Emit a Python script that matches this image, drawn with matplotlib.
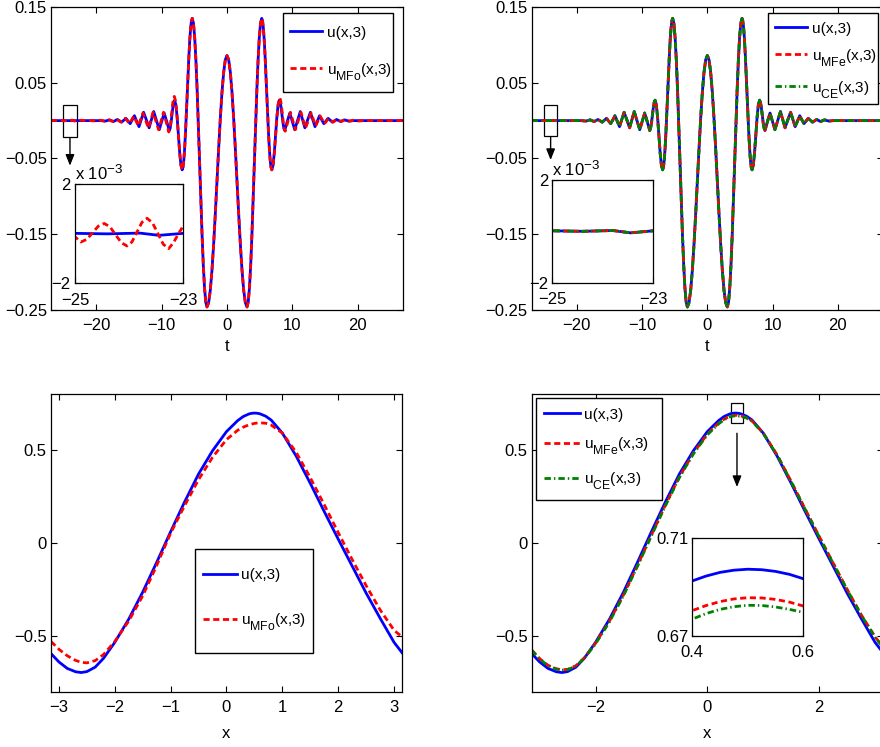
import numpy as np
import matplotlib
matplotlib.use("Agg")
import matplotlib.pyplot as plt
from matplotlib.patches import Rectangle

plt.rcParams["font.family"] = ["Liberation Sans", "DejaVu Sans"]
plt.rcParams["mathtext.fontset"] = "custom"
plt.rcParams["mathtext.rm"] = "Liberation Sans"
plt.rcParams["mathtext.it"] = "Liberation Sans:italic"

# larger, lower subscripts in the legend labels
try:
    import matplotlib._mathtext as _mt
    _mt.SHRINK_FACTOR = 0.8
    _mt.FontConstantsBase.sub1 = 0.75
except Exception:
    pass

FS = 12
FS_LEG = 11
BLUE = (0, 0, 1)
RED = (1, 0, 0)
GREEN = (0, 0.5, 0)

# ---- top row: wave packet at the final time, u(t) ----
T_TOP = [
    -26.9, -25.0, -24.4, -23.8, -23.45, -23.0, -19.3, -18.6, -17.95, -17.35,
    -16.75, -16.1, -15.45, -14.8, -14.475, -14.15, -13.8, -13.45, -13.1, -12.75,
    -12.325, -11.9, -11.55, -11.2, -10.775, -10.35, -9.975, -9.6, -9.215, -8.83,
    -8.692, -8.553, -8.415, -8.277, -8.138, -8.0, -7.808, -7.617, -7.425, -7.233,
    -7.042, -6.85, -6.722, -6.593, -6.465, -6.337, -6.208, -6.08, -5.952, -5.823,
    -5.695, -5.567, -5.438, -5.31, -5.123, -4.935, -4.748, -4.56, -4.373, -4.185,
    -3.998, -3.81, -3.623, -3.435, -3.248, -3.06, -2.805, -2.55, -2.295, -2.04,
    -1.785, -1.53, -1.275, -1.02, -0.765, -0.51, -0.255,
    0.0, 0.255, 0.51, 0.765, 1.02, 1.275, 1.53, 1.785, 2.04, 2.295,
    2.55, 2.805, 3.06, 3.248, 3.435, 3.623, 3.81, 3.998, 4.185, 4.373,
    4.56, 4.748, 4.935, 5.123, 5.31, 5.438, 5.567, 5.695, 5.823, 5.952,
    6.08, 6.208, 6.337, 6.465, 6.593, 6.722, 6.85, 7.042, 7.233, 7.425,
    7.617, 7.808, 8.0, 8.138, 8.277, 8.415, 8.553, 8.692, 8.83, 9.215,
    9.6, 9.975, 10.35, 10.775, 11.2, 11.55, 11.9, 12.325, 12.75, 13.1,
    13.45, 13.8, 14.15, 14.475, 14.8, 15.45, 16.1, 16.75, 17.35, 17.95,
    18.6, 19.3, 26.9,
]
U_TOP = [
    0.0, 0.00002, 0.0, 0.00003, -0.00006, 0.00002, 0.0, -0.0006, 0.001, -0.0012,
    0.0015, -0.002, 0.003, -0.004, 0.001, 0.0065, -0.0007, -0.008, 0.0015, 0.011,
    0.001, -0.0095, 0.001, 0.012, 0.0, -0.012, -0.001, 0.010, -0.001, -0.013,
    -0.0103, -0.003, 0.007, 0.017, 0.0243, 0.027, 0.0208, 0.004, -0.019, -0.042,
    -0.0588, -0.065, -0.0616, -0.0516, -0.0357, -0.015, 0.0091, 0.035, 0.0609, 0.085,
    0.1057, 0.1216, 0.1316, 0.135, 0.1285, 0.1095, 0.0792, 0.0398, -0.0062, -0.0555,
    -0.1048, -0.1508, -0.1902, -0.2205, -0.2395, -0.246, -0.2404, -0.2238, -0.1974, -0.163,
    -0.123, -0.080, -0.037, 0.003, 0.0374, 0.0638, 0.0804,
    0.086, 0.0804, 0.0638, 0.0374, 0.003, -0.037, -0.080, -0.123, -0.163, -0.1974,
    -0.2238, -0.2404, -0.246, -0.2395, -0.2205, -0.1902, -0.1508, -0.1048, -0.0555, -0.0062,
    0.0398, 0.0792, 0.1095, 0.1285, 0.135, 0.1316, 0.1216, 0.1057, 0.085, 0.0609,
    0.035, 0.0091, -0.015, -0.0357, -0.0516, -0.0616, -0.065, -0.0588, -0.042, -0.019,
    0.004, 0.0208, 0.027, 0.0243, 0.017, 0.007, -0.003, -0.0103, -0.013, -0.001,
    0.010, -0.001, -0.012, 0.0, 0.012, 0.001, -0.0095, 0.001, 0.011, 0.0015,
    -0.008, -0.0007, 0.0065, 0.001, -0.004, 0.003, -0.002, 0.0015, -0.0012, 0.001,
    -0.0006, 0.0, 0.0,
]

# odd-mode approximation: same core, different ripples and a small far tail
T_MFO = [
    -26.9, -25.3, -25.0, -24.89, -24.78, -24.675, -24.57, -24.46, -24.355, -24.25,
    -24.145, -24.04, -23.948, -23.855, -23.763, -23.67, -23.57, -23.47, -23.37, -23.27,
    -23.18, -23.09, -23.0, -22.85, -21.0, -20.0, -19.35, -18.7, -18.05, -17.45,
    -16.85, -16.2, -15.55, -14.9, -14.575, -14.25, -13.9, -13.55, -13.2, -12.85,
    -12.425, -12.0, -11.65, -11.3, -10.875, -10.45, -10.075, -9.7, -9.3, -8.9,
    -8.758, -8.617, -8.475, -8.333, -8.192, -8.05, -7.85, -7.65, -7.45, -7.25,
    -7.05, -6.85, -6.722, -6.593, -6.465, -6.337, -6.208, -6.08, -5.952, -5.823,
    -5.695, -5.567, -5.438, -5.31, -5.123, -4.935, -4.748, -4.56, -4.373, -4.185,
    -3.998, -3.81, -3.623, -3.435, -3.248, -3.06, -2.805, -2.55, -2.295, -2.04,
    -1.785, -1.53, -1.275, -1.02, -0.765, -0.51, -0.255,
    0.0, 0.255, 0.51, 0.765, 1.02, 1.275, 1.53, 1.785, 2.04, 2.295,
    2.55, 2.805, 3.06, 3.248, 3.435, 3.623, 3.81, 3.998, 4.185, 4.373,
    4.56, 4.748, 4.935, 5.123, 5.31, 5.438, 5.567, 5.695, 5.823, 5.952,
    6.08, 6.208, 6.337, 6.465, 6.593, 6.722, 6.85, 7.05, 7.25, 7.45,
    7.65, 7.85, 8.05, 8.192, 8.333, 8.475, 8.617, 8.758, 8.9, 9.3,
    9.7, 10.075, 10.45, 10.875, 11.3, 11.65, 12.0, 12.425, 12.85, 13.2,
    13.55, 13.9, 14.25, 14.575, 14.9, 15.55, 16.2, 16.85, 17.45, 18.05,
    18.7, 19.35, 20.0, 21.0, 26.9,
]
U_MFO = [
    0.0, 0.00035, -0.00012, -0.00033, -0.00022, 0.000045, 0.00031, 0.00042, 0.000287, -0.000035,
    -0.000357, -0.00049, -0.000326, 0.00007, 0.000466, 0.00063, 0.00045, 0.000015, -0.00042, -0.0006,
    -0.00035, 0.0, 0.00033, 0.0006, 0.0, -0.0005, 0.0006, -0.0008, 0.001, -0.0012,
    0.0015, -0.002, 0.003, -0.004, 0.001, 0.006, -0.0005, -0.007, 0.0015, 0.010,
    0.0, -0.010, 0.0005, 0.011, -0.0005, -0.012, -0.0005, 0.011, -0.0015, -0.015,
    -0.0119, -0.0033, 0.0085, 0.0203, 0.0289, 0.032, 0.0255, 0.0078, -0.0165, -0.0408,
    -0.0585, -0.065, -0.0616, -0.0516, -0.0357, -0.015, 0.0091, 0.035, 0.0609, 0.085,
    0.1057, 0.1216, 0.1316, 0.135, 0.1285, 0.1095, 0.0792, 0.0398, -0.0062, -0.0555,
    -0.1048, -0.1508, -0.1902, -0.2205, -0.2395, -0.246, -0.2404, -0.2238, -0.1974, -0.163,
    -0.123, -0.080, -0.037, 0.003, 0.0374, 0.0638, 0.0804,
    0.086, 0.0804, 0.0638, 0.0374, 0.003, -0.037, -0.080, -0.123, -0.163, -0.1974,
    -0.2238, -0.2404, -0.246, -0.2395, -0.2205, -0.1902, -0.1508, -0.1048, -0.0555, -0.0062,
    0.0398, 0.0792, 0.1095, 0.1285, 0.135, 0.1316, 0.1216, 0.1057, 0.085, 0.0609,
    0.035, 0.0091, -0.015, -0.0357, -0.0516, -0.0616, -0.065, -0.0586, -0.0413, -0.0175,
    0.0063, 0.0236, 0.030, 0.0271, 0.019, 0.008, -0.003, -0.0111, -0.014, -0.0015,
    0.011, -0.0005, -0.012, -0.0005, 0.011, 0.0005, -0.010, 0.0, 0.010, 0.0015,
    -0.007, -0.0005, 0.006, 0.001, -0.004, 0.003, -0.002, 0.0015, -0.0012, 0.001,
    -0.0008, 0.0006, -0.0005, 0.0, 0.0,
]

# ---- bottom row: periodic profile on [-pi, pi] ----
X_BOT = [
    -3.1416, -3.0, -2.85, -2.7, -2.6, -2.5, -2.35, -2.2, -2.0, -1.75,
    -1.5, -1.25, -1.0, -0.75, -0.5, -0.25, 0.0, 0.2, 0.3, 0.4,
    0.425, 0.45, 0.475, 0.5, 0.525, 0.55, 0.575, 0.6, 0.7, 0.8,
    1.0, 1.25, 1.5, 1.75, 2.0, 2.25, 2.5, 2.75, 3.0, 3.1416,
]
U_BOT = [
    -0.595, -0.64, -0.675, -0.693, -0.697, -0.692, -0.668, -0.62, -0.535, -0.41,
    -0.265, -0.105, 0.06, 0.22, 0.37, 0.495, 0.598, 0.657, 0.679, 0.6925,
    0.6945, 0.6960, 0.6969, 0.6973, 0.6971, 0.6964, 0.6952, 0.6934, 0.681, 0.66,
    0.59, 0.465, 0.32, 0.168, 0.02, -0.125, -0.27, -0.405, -0.535, -0.59,
]
U_MFO_BOT = [
    -0.53, -0.572, -0.607, -0.632, -0.642, -0.645, -0.633, -0.60, -0.53, -0.42,
    -0.285, -0.122, 0.052, 0.20, 0.34, 0.46, 0.555, 0.605, 0.622, 0.634,
    0.636, 0.638, 0.640, 0.642, 0.643, 0.644, 0.645, 0.645, 0.643, 0.633,
    0.59, 0.485, 0.35, 0.205, 0.055, -0.09, -0.23, -0.36, -0.47, -0.505,
]
U_MFE_BOT = [
    -0.575, -0.622, -0.658, -0.677, -0.682, -0.68, -0.66, -0.618, -0.54, -0.42,
    -0.28, -0.122, 0.042, 0.203, 0.355, 0.482, 0.585, 0.643, 0.665, 0.6803,
    0.6824, 0.6840, 0.6851, 0.6856, 0.6855, 0.6849, 0.6838, 0.6822, 0.673, 0.655,
    0.59, 0.472, 0.33, 0.182, 0.035, -0.108, -0.25, -0.385, -0.505, -0.56,
]
U_CE_BOT = [
    -0.578, -0.625, -0.66, -0.679, -0.684, -0.682, -0.662, -0.62, -0.543, -0.424,
    -0.284, -0.126, 0.038, 0.199, 0.351, 0.478, 0.581, 0.639, 0.662, 0.6768,
    0.6791, 0.6808, 0.6819, 0.6825, 0.6824, 0.6818, 0.6808, 0.6796, 0.671, 0.653,
    0.588, 0.47, 0.328, 0.18, 0.033, -0.11, -0.252, -0.387, -0.507, -0.562,
]

LBL_U = "u(x,3)"
LBL_MFO = r"u$_{\mathrm{MFo}}$(x,3)"
LBL_MFE = r"u$_{\mathrm{MFe}}$(x,3)"
LBL_CE = r"u$_{\mathrm{CE}}$(x,3)"

RED_DASH = (2.2, 1.3)
GREEN_DASHDOT = (2.3, 1.1, 0.5, 1.1)
LW = 2.0


def style(ax, size=FS, xpad=6):
    for s in ax.spines.values():
        s.set_linewidth(0.9)
        s.set_color("black")
    ax.tick_params(direction="in", length=4, width=0.8, top=True, right=True,
                   labelsize=size, colors="black")
    ax.tick_params(axis="y", pad=3)
    ax.tick_params(axis="x", pad=xpad)


def minus(v, fmt):
    return (fmt % v).replace("-", "\u2212")


def add_legend(ax, frame, anchor, spacing, hlen):
    # boxed legend: frame drawn as its own rectangle, entries placed inside it
    x0, y0, x1, y1 = frame
    ax.add_patch(Rectangle((x0, y0), x1 - x0, y1 - y0, transform=ax.transAxes,
                           fc="white", ec="black", lw=1.0, zorder=4.5,
                           clip_on=False))
    leg = ax.legend(loc="upper left", bbox_to_anchor=anchor, fontsize=FS_LEG,
                    frameon=False, handlelength=hlen, handletextpad=0.3,
                    labelspacing=spacing, borderpad=0, borderaxespad=0)
    leg.set_zorder(5)
    return leg


def arrow(ax, x, y0, y1):
    ax.annotate("", xy=(x, y1), xytext=(x, y0),
                arrowprops=dict(arrowstyle="-|>,head_length=0.55,head_width=0.22",
                                color="black", lw=1.0, shrinkA=0, shrinkB=0,
                                mutation_scale=12))


fig = plt.figure(figsize=(8.8, 7.47), dpi=100)

# ---------------- top left ----------------
ax1 = fig.add_axes([0.05795, 0.58501, 0.4, 0.40562])
ax1.plot(T_TOP, U_TOP, color=BLUE, lw=LW, label=LBL_U)
ax1.plot(T_MFO, U_MFO, color=RED, lw=LW, dashes=RED_DASH, label=LBL_MFO)
ax1.set_xlim(-26.9, 26.9)
ax1.set_ylim(-0.25, 0.15)
yt = [-0.25, -0.15, -0.05, 0.05, 0.15]
ax1.set_yticks(yt)
ax1.set_yticklabels([minus(v, "%.2f") for v in yt])
xt = [-20, -10, 0, 10, 20]
ax1.set_xticks(xt)
ax1.set_xticklabels([minus(v, "%d") for v in xt])
ax1.set_xlabel("t", fontsize=FS, labelpad=4)
style(ax1)
add_legend(ax1, (0.660, 0.7205, 0.9724, 0.9792), (0.679, 0.938), 1.37, 2.09)
ax1.add_patch(Rectangle((-25, -0.021), 2, 0.042, fill=False, ec="black", lw=0.9))
arrow(ax1, -24, -0.023, -0.0595)

in1 = fig.add_axes([0.0852, 0.6207, 0.1231, 0.1325])
in1.plot(T_TOP, U_TOP, color=BLUE, lw=LW)
in1.plot(T_MFO, U_MFO, color=RED, lw=LW, dashes=RED_DASH)
in1.set_xlim(-25, -23)
in1.set_ylim(-0.002, 0.002)
in1.set_xticks([-25, -23])
in1.set_xticklabels(["\u221225", "\u221223"])
in1.set_yticks([-0.002, 0.002])
in1.set_yticklabels(["\u22122", "2"])
style(in1, xpad=7)
in1.text(0.0, 1.01, r"x 10$^{-3}$", transform=in1.transAxes, ha="left",
         va="bottom", fontsize=FS)

# ---------------- top right ----------------
# the even-mode and CE approximations coincide with the exact packet here
ax2 = fig.add_axes([0.6042, 0.58501, 0.3992, 0.40562])
ax2.plot(T_TOP, U_TOP, color=BLUE, lw=LW, label=LBL_U)
ax2.plot(T_TOP, U_TOP, color=RED, lw=LW, dashes=RED_DASH, label=LBL_MFE)
ax2.plot(T_TOP, U_TOP, color=GREEN, lw=LW, dashes=GREEN_DASHDOT, label=LBL_CE)
ax2.set_xlim(-26.9, 26.9)
ax2.set_ylim(-0.25, 0.15)
ax2.set_yticks(yt)
ax2.set_yticklabels([minus(v, "%.2f") for v in yt])
ax2.set_xticks(xt)
ax2.set_xticklabels([minus(v, "%d") for v in xt])
ax2.set_xlabel("t", fontsize=FS, labelpad=4)
style(ax2)
add_legend(ax2, (0.6735, 0.6799, 0.9866, 0.9792), (0.6926, 0.951), 0.72, 2.09)
ax2.add_patch(Rectangle((-25, -0.02), 2, 0.04, fill=False, ec="black", lw=0.9))
arrow(ax2, -24, -0.022, -0.052)

in2 = fig.add_axes([0.6276, 0.6216, 0.1148, 0.1375])
in2.plot(T_TOP, U_TOP, color=BLUE, lw=LW)
in2.plot(T_TOP, U_TOP, color=RED, lw=LW, dashes=RED_DASH)
in2.plot(T_TOP, U_TOP, color=GREEN, lw=LW, dashes=GREEN_DASHDOT)
in2.set_xlim(-25, -23)
in2.set_ylim(-0.002, 0.002)
in2.set_xticks([-25, -23])
in2.set_xticklabels(["\u221225", "\u221223"])
in2.set_yticks([-0.002, 0.002])
in2.set_yticklabels(["\u22122", "2"])
style(in2, xpad=7)
in2.text(0.0, 1.01, r"x 10$^{-3}$", transform=in2.transAxes, ha="left",
         va="bottom", fontsize=FS)

# ---------------- bottom left ----------------
ax3 = fig.add_axes([0.05795, 0.07403, 0.39886, 0.39853])
ax3.plot(X_BOT, U_BOT, color=BLUE, lw=LW, label=LBL_U)
ax3.plot(X_BOT, U_MFO_BOT, color=RED, lw=LW, dashes=RED_DASH, label=LBL_MFO)
ax3.set_xlim(-np.pi, np.pi)
ax3.set_ylim(-0.8, 0.8)
ax3.set_yticks([-0.5, 0, 0.5])
ax3.set_yticklabels(["\u22120.5", "0", "0.5"])
xb = [-3, -2, -1, 0, 1, 2, 3]
ax3.set_xticks(xb)
ax3.set_xticklabels([minus(v, "%d") for v in xb])
ax3.set_xlabel("x", fontsize=FS, labelpad=8)
style(ax3)
add_legend(ax3, (0.4103, 0.129, 0.7473, 0.4793), (0.4322, 0.4145), 1.88, 2.22)

# ---------------- bottom right ----------------
ax4 = fig.add_axes([0.6042, 0.07403, 0.3992, 0.39853])
ax4.plot(X_BOT, U_BOT, color=BLUE, lw=LW, label=LBL_U)
ax4.plot(X_BOT, U_MFE_BOT, color=RED, lw=LW, dashes=RED_DASH, label=LBL_MFE)
ax4.plot(X_BOT, U_CE_BOT, color=GREEN, lw=LW, dashes=GREEN_DASHDOT, label=LBL_CE)
ax4.set_xlim(-np.pi, np.pi)
ax4.set_ylim(-0.8, 0.8)
ax4.set_yticks([-0.5, 0, 0.5])
ax4.set_yticklabels(["\u22120.5", "0", "0.5"])
ax4.set_xticks([-2, 0, 2])
ax4.set_xticklabels(["\u22122", "0", "2"])
ax4.set_xlabel("x", fontsize=FS, labelpad=8)
style(ax4)
add_legend(ax4, (0.0122, 0.644, 0.3718, 0.9876), (0.0359, 0.954), 0.9, 2.33)
ax4.add_patch(Rectangle((0.415, 0.646), 0.22, 0.105, fill=False, ec="black", lw=0.9))
arrow(ax4, 0.53, 0.589, 0.30)

in4 = fig.add_axes([0.7867, 0.149, 0.1261, 0.1304])
in4.plot(X_BOT, U_BOT, color=BLUE, lw=LW)
in4.plot(X_BOT, U_MFE_BOT, color=RED, lw=LW, dashes=RED_DASH)
in4.plot(X_BOT, U_CE_BOT, color=GREEN, lw=LW, dashes=GREEN_DASHDOT)
in4.set_xlim(0.4, 0.6)
in4.set_ylim(0.67, 0.71)
in4.set_xticks([0.4, 0.6])
in4.set_xticklabels(["0.4", "0.6"])
in4.set_yticks([0.67, 0.71])
in4.set_yticklabels(["0.67", "0.71"])
style(in4, xpad=7)

fig.savefig("out.png", dpi=100)
